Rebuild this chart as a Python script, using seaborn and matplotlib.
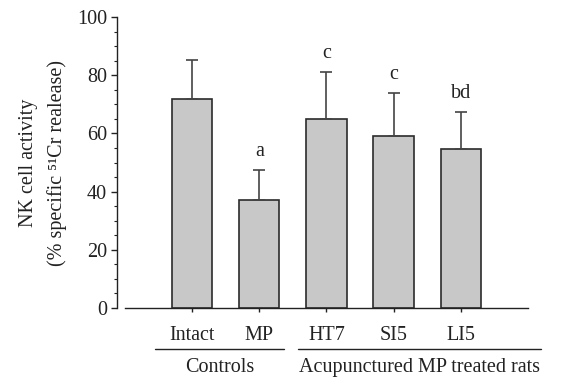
import matplotlib
matplotlib.use("Agg")
import matplotlib.pyplot as plt
import matplotlib.transforms as mtransforms
from matplotlib.ticker import MultipleLocator
import pandas as pd
import seaborn as sns

groups = ["Intact", "MP", "HT7", "SI5", "LI5"]
activity = [72, 37, 65, 59, 54.5]
sem = [13.3, 10.5, 16.2, 15.0, 13.0]
letters = ["", "a", "c", "c", "bd"]
group_names = ["Controls", "Acupunctured MP treated rats"]

df = pd.DataFrame({"group": groups, "activity": activity})

sns.set_style("ticks")
plt.rcParams["font.family"] = ["Liberation Serif", "DejaVu Serif"]
fs = 14.5

fig = plt.figure(figsize=(5.61, 3.79), dpi=100)
ax = fig.add_axes([0.2228, 0.1873, 0.7182, 0.7677])

sns.barplot(data=df, x="group", y="activity", color="#c8c8c8", width=0.6,
            edgecolor="#2b2b2b", linewidth=1.2, errorbar=None, saturation=1, ax=ax)
ax.errorbar(range(len(groups)), activity, yerr=[[0] * len(groups), sem],
            fmt="none", ecolor="#444444", elinewidth=1.2, capsize=4, capthick=1.2)

for i, (v, e, t) in enumerate(zip(activity, sem, letters)):
    if t:
        ax.text(i, v + e + 3, t, ha="center", va="bottom", fontsize=fs, color="#222222")

ax.set_xlim(-1, 5)
ax.set_ylim(0, 100)
ax.yaxis.set_major_locator(MultipleLocator(20))
ax.yaxis.set_minor_locator(MultipleLocator(5))
ax.spines["top"].set_visible(False)
ax.spines["right"].set_visible(False)
ax.spines["left"].set_position(("outward", 6))
for s in ["left", "bottom"]:
    ax.spines[s].set_color("#222222")
    ax.spines[s].set_linewidth(1.0)
ax.tick_params(axis="y", which="major", length=4, width=1.0, labelsize=fs, colors="#222222", pad=3)
ax.tick_params(axis="y", which="minor", length=2.5, width=0.8, colors="#222222")
ax.tick_params(axis="x", length=3, width=1.0, labelsize=fs, colors="#222222", pad=10)
ax.set_xlabel("")
ax.set_ylabel("NK cell activity\n(% specific \u2075\u00b9Cr realease)", fontsize=fs,
              color="#222222", labelpad=7, linespacing=1.6)

trans = mtransforms.blended_transform_factory(ax.transData, ax.transAxes)
spans = [(-0.55, 1.37), (1.57, 5.19)]
for (x0, x1), name in zip(spans, group_names):
    ax.plot([x0, x1], [-0.141, -0.141], transform=trans, color="#222222", lw=1.0, clip_on=False)
    ax.text((x0 + x1) / 2, -0.205, name, transform=trans, ha="center", va="center",
            fontsize=fs, color="#222222")

fig.savefig("out.png", dpi=100)
